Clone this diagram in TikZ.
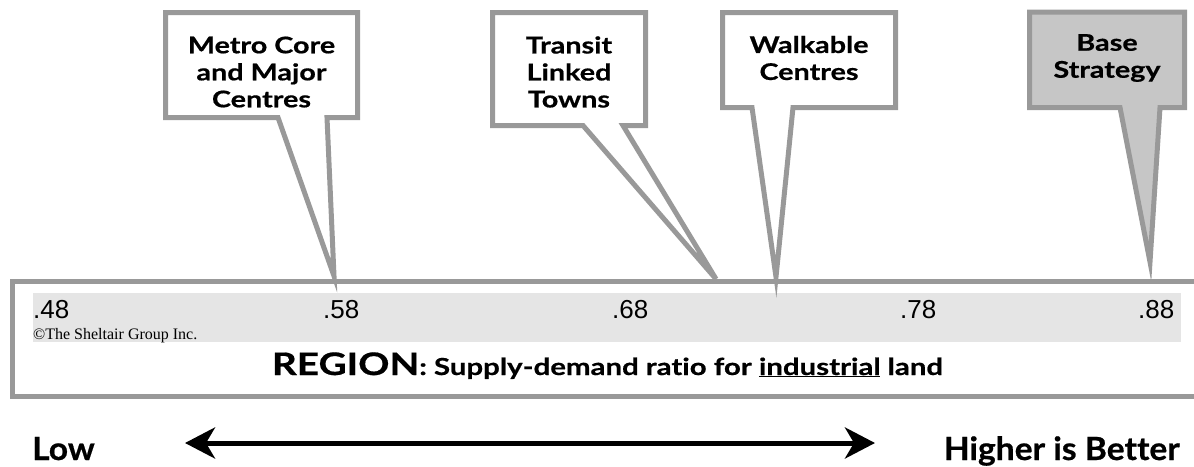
\documentclass[tikz,border=0pt]{standalone}
\usepackage{fontspec}
\setmainfont{Lato}
\newfontfamily\gillb[FakeStretch=1.25,FakeBold=0.6,Ligatures=NoCommon]{Lato Bold}
\newfontfamily\gilllo[FakeStretch=1.05,FakeBold=0.6,Ligatures=NoCommon]{Lato Bold}
\newfontfamily\arialf{Liberation Sans}
\newfontfamily\timesf{Liberation Serif}
\usetikzlibrary{arrows.meta}
\definecolor{bord}{HTML}{999999}
\definecolor{stripc}{HTML}{E5E5E5}
\definecolor{basefill}{HTML}{C6C6C6}
\tikzset{
  callout/.style={draw=bord, line width=5pt, fill=white, line join=miter},
  lbl/.style={font=\gillb\fontsize{23}{27}\selectfont, align=center, inner sep=0pt},
  tick/.style={font=\arialf\fontsize{26}{26}\selectfont, anchor=base west, inner sep=0pt},
  bigtxt/.style={font=\gilllo\fontsize{32}{32}\selectfont, inner sep=0pt},
  dblarrow/.style={line width=5pt, {Stealth[length=30pt,width=31pt,inset=9pt]}-{Stealth[length=30pt,width=31pt,inset=9pt]}}
}
\begin{document}
\begin{tikzpicture}[x=1pt,y=-1pt]
\useasboundingbox (0,0) rectangle (1194,466);
% frame and strip
\draw[bord, line width=5pt] (12,281) rectangle (1215,396);
\fill[stripc] (33,293) rectangle (1181,342);
% tick labels
\node[tick] (t48) at (33,318) {.48};
\node[tick] (t58) at (323,318) {.58};
\node[tick] (t68) at (612,318) {.68};
\node[tick] (t78) at (900,318) {.78};
\node[tick] (t88) at (1138,318) {.88};
\node[anchor=base west, font=\timesf\fontsize{16}{16}\selectfont, inner sep=0pt] (copy) at (33,339) {©The Sheltair Group Inc.};
% title
\node[anchor=base, font=\gillb\fontsize{23.5}{23.5}\selectfont, inner sep=0pt] (title) at (607.5,375)
  {{\fontsize{31}{31}\selectfont REGION}: Supply-demand ratio for \underline{industrial} land};
% callouts
\draw[callout] (165.5,12.5) -- (357.5,12.5) -- (357.5,117.5) -- (327,117.5) -- (334,276) -- (278,117.5) -- (165.5,117.5) -- cycle;
\node[lbl] (metro) at (261.5,72) {Metro Core\\and Major\\Centres};
\draw[callout] (492.5,12.5) -- (645.5,12.5) -- (645.5,125.5) -- (623,125.5) -- (716,279) -- (583,125.5) -- (492.5,125.5) -- cycle;
\node[lbl] (transit) at (569,72) {Transit\\Linked\\Towns};
\draw[callout] (722.5,12.5) -- (895.5,12.5) -- (895.5,107.5) -- (793,107.5) -- (776,277) -- (752,107.5) -- (722.5,107.5) -- cycle;
\node[lbl] (walk) at (809,58) {Walkable\\Centres};
\draw[callout, fill=basefill] (1029.5,12) -- (1184.5,12) -- (1184.5,107.5) -- (1160,107.5) -- (1150,262) -- (1120,107.5) -- (1029.5,107.5) -- cycle;
\node[lbl] (base) at (1107,58) {Base\\Strategy};
% bottom
\node[bigtxt, anchor=base west] (low) at (32,460) {Low};
\node[bigtxt, anchor=base east] (high) at (1180,460) {Higher is Better};
\coordinate (al) at (185,443);
\coordinate (ar) at (875,443);
\draw[dblarrow] (al) -- (ar);
\end{tikzpicture}
\end{document}
